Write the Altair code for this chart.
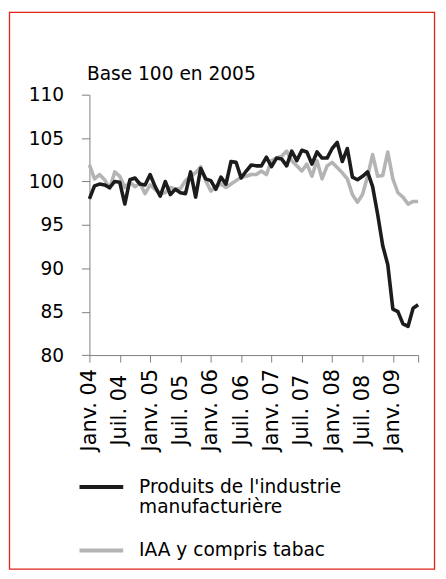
import altair as alt
import pandas as pd

# ---- data -------------------------------------------------------------
mois_noms = ["Janv.", "Févr.", "Mars", "Avr.", "Mai", "Juin",
             "Juil.", "Août", "Sept.", "Oct.", "Nov.", "Déc."]
annee_debut = 2004
n_mois = 66
months = [f"{mois_noms[i % 12]} {str(annee_debut + i // 12)[2:]}" for i in range(n_mois)]

pim = [98.0, 99.5, 99.7, 99.6, 99.3, 100.0, 99.9, 97.4, 100.2, 100.4, 99.7, 99.6,
       100.8, 99.4, 98.3, 100.0, 98.5, 99.1, 98.7, 98.6, 101.1, 98.2, 101.5, 100.3,
       100.1, 99.1, 100.5, 99.7, 102.3, 102.2, 100.4, 101.2, 101.9, 101.8, 101.8, 102.8,
       101.7, 102.7, 102.6, 101.8, 103.5, 102.4, 103.6, 103.4, 102.0, 103.4, 102.7, 102.7,
       103.8, 104.5, 102.3, 103.8, 100.5, 100.2, 100.6, 101.1, 99.4, 96.2, 92.6, 90.4,
       85.3, 85.0, 83.6, 83.3, 85.4, 85.8]

iaa = [101.9, 100.3, 100.8, 100.2, 99.2, 101.1, 100.6, 99.3, 99.9, 99.4, 99.8, 98.6,
       99.6, 99.1, 98.6, 98.7, 99.3, 99.1, 99.2, 100.1, 100.6, 101.0, 101.7, 100.1,
       98.9, 99.4, 99.7, 99.3, 99.7, 100.1, 100.5, 100.6, 100.8, 100.8, 101.2, 100.8,
       102.4, 102.7, 102.9, 103.5, 102.4, 101.8, 101.2, 102.0, 100.6, 102.4, 100.3, 101.8,
       102.2, 101.6, 101.0, 100.3, 98.5, 97.6, 98.5, 100.6, 103.1, 100.6, 100.7, 103.4,
       100.3, 98.7, 98.2, 97.4, 97.7, 97.7]

serie_pim = "Produits de l'industrie manufacturière"
serie_iaa = "IAA y compris tabac"
series = [serie_pim, serie_iaa]
couleurs = ["#1c1c1c", "#b4b4b4"]

y_ticks = [80, 85, 90, 95, 100, 105, 110]
x_ticks = months[0::6] + [months[-1]]

# gray series first so that the black one is drawn on top
df = pd.DataFrame({
    "mois": months + months,
    "valeur": iaa + pim,
    "serie": [serie_iaa] * n_mois + [serie_pim] * n_mois,
})

FONT = "DejaVu Sans"
FS = 18.7
FSX = 21

lines = alt.Chart(df).mark_line(strokeWidth=3.6, strokeJoin="round").encode(
    x=alt.X("mois:O", sort=months,
            scale=alt.Scale(type="point", padding=0, domain=months),
            axis=alt.Axis(values=x_ticks, labelAngle=270, labelAlign="center",
                          labelBaseline="middle", title=None,
                          labelExpr="datum.value == '" + months[-1] + "' ? '' : datum.value",
                          tickSize=7, labelPadding=48, labelOverlap=False,
                          labelFontSize=FSX)),
    y=alt.Y("valeur:Q",
            scale=alt.Scale(domain=[80, 110], nice=False, zero=False),
            axis=alt.Axis(values=y_ticks, tickSize=8, labelPadding=18, labelFontSize=FS,
                          title="Base 100 en 2005", titleAngle=0, titleX=-3, titleY=-15,
                          titleAlign="left", titleBaseline="alphabetic",
                          titleFont=FONT, titleFontSize=FS, titleFontWeight="normal",
                          titleColor="black")),
    color=alt.Color("serie:N",
                    scale=alt.Scale(domain=series, range=couleurs),
                    legend=alt.Legend(orient="none", legendX=-12, legendY=371,
                                      title=None, symbolType="stroke", symbolSize=1936,
                                      symbolStrokeWidth=4, labelFont=FONT, labelFontSize=FS,
                                      labelColor="black", labelOffset=14, rowPadding=9,
                                      padding=0, labelLimit=400,
                                      labelExpr="indexof(datum.label, 'Produits') >= 0 ? [\"Produits de l'industrie\", 'manufacturière'] : datum.label")),
)

frame = alt.Chart(pd.DataFrame({"k": [0]})).mark_rect(
    fillOpacity=0, stroke="#e0221b", strokeWidth=1.3
).encode(
    x=alt.value(-80.5), x2=alt.value(347.5),
    y=alt.value(-82.8), y2=alt.value(477.7),
)

chart = alt.layer(lines, frame).properties(
    width=331, height=262.2,
    padding={"left": 82, "top": 85.3, "right": 20, "bottom": 222},
    autosize=alt.AutoSizeParams(type="none"),
).configure_view(stroke=None).configure_axis(
    domainColor="#808080", tickColor="#808080", labelColor="black",
    labelFont=FONT, grid=False, domainWidth=1, tickWidth=1,
)

chart.save("out.html", embed_options={"renderer": "svg", "actions": False})
